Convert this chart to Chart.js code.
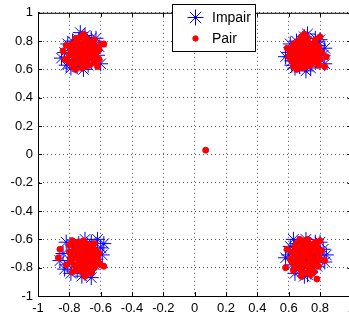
<!DOCTYPE html>
<html>
<head>
<meta charset="utf-8">
<script src="https://cdn.jsdelivr.net/npm/chart.js@4/dist/chart.umd.min.js"></script>
<style>
html,body{margin:0;padding:0;background:#fff;overflow:hidden;width:349px;height:322px;}
#wrap{position:relative;width:360px;height:322px;}
canvas{display:block;}
</style>
</head>
<body>
<div id="wrap"><canvas id="c" width="360" height="322" style="width:360px;height:322px"></canvas></div>
<script>
// ---- data ----
const seriesNames = ["Impair", "Pair"];
const tickValues = [-1, -0.8, -0.6, -0.4, -0.2, 0, 0.2, 0.4, 0.6, 0.8, 1];

const impairPoints = [
  // top-left
  [-0.72,0.73],[-0.78,0.80],[-0.66,0.82],[-0.83,0.72],[-0.62,0.70],[-0.75,0.62],[-0.68,0.63],[-0.80,0.66],[-0.64,0.77],[-0.70,0.84],
  [-0.76,0.76],[-0.69,0.70],[-0.74,0.68],[-0.66,0.67],[-0.81,0.78],[-0.60,0.64],[-0.73,0.86],[-0.85,0.68],[-0.79,0.61],[-0.63,0.82],
  [-0.71,0.60],[-0.67,0.76],[-0.77,0.71],[-0.65,0.72],[-0.61,0.76],[-0.82,0.63],[-0.74,0.81],[-0.69,0.66],[-0.75,0.74],[-0.70,0.78],
  // top-right
  [0.71,0.72],[0.65,0.80],[0.77,0.82],[0.60,0.72],[0.82,0.70],[0.67,0.62],[0.74,0.61],[0.62,0.66],[0.79,0.77],[0.72,0.85],
  [0.66,0.75],[0.73,0.69],[0.69,0.67],[0.77,0.66],[0.61,0.78],[0.83,0.64],[0.70,0.83],[0.58,0.69],[0.64,0.61],[0.80,0.81],
  [0.71,0.59],[0.76,0.75],[0.67,0.71],[0.78,0.72],[0.83,0.75],[0.62,0.63],[0.69,0.80],[0.74,0.65],[0.68,0.74],[0.73,0.77],
  // bottom-left
  [-0.72,-0.72],[-0.78,-0.64],[-0.66,-0.62],[-0.84,-0.70],[-0.60,-0.66],[-0.75,-0.82],[-0.67,-0.80],[-0.81,-0.78],[-0.63,-0.74],[-0.70,-0.60],
  [-0.76,-0.69],[-0.69,-0.75],[-0.74,-0.77],[-0.65,-0.69],[-0.82,-0.62],[-0.58,-0.63],[-0.72,-0.86],[-0.86,-0.75],[-0.79,-0.84],[-0.62,-0.60],
  [-0.70,-0.84],[-0.67,-0.66],[-0.77,-0.73],[-0.64,-0.78],[-0.59,-0.71],[-0.83,-0.81],[-0.74,-0.63],[-0.69,-0.79],[-0.76,-0.67],[-0.71,-0.68],[-0.66,-0.87],
  // bottom-right
  [0.71,-0.72],[0.66,-0.63],[0.77,-0.62],[0.60,-0.71],[0.82,-0.67],[0.67,-0.82],[0.74,-0.83],[0.62,-0.78],[0.79,-0.74],[0.71,-0.60],
  [0.65,-0.69],[0.73,-0.75],[0.69,-0.78],[0.77,-0.70],[0.61,-0.65],[0.83,-0.76],[0.70,-0.86],[0.58,-0.73],[0.64,-0.84],[0.80,-0.62],
  [0.72,-0.85],[0.76,-0.66],[0.67,-0.74],[0.78,-0.79],[0.84,-0.71],[0.63,-0.60],[0.69,-0.66],[0.75,-0.80],[0.68,-0.70],[0.73,-0.68]
];

const pairPoints = [
  // top-left
  [-0.71,0.72],[-0.74,0.70],[-0.68,0.75],[-0.72,0.78],[-0.66,0.69],[-0.77,0.73],[-0.70,0.66],[-0.75,0.65],[-0.63,0.72],[-0.69,0.80],
  [-0.73,0.83],[-0.80,0.70],[-0.65,0.77],[-0.78,0.78],[-0.67,0.63],[-0.72,0.61],[-0.61,0.67],[-0.84,0.73],[-0.83,0.67],[-0.58,0.78],
  [-0.60,0.78],[-0.76,0.60],[-0.62,0.62],[-0.71,0.85],[-0.79,0.75],[-0.64,0.81],[-0.74,0.76],[-0.70,0.69],[-0.68,0.71],[-0.73,0.67],
  [-0.66,0.74],[-0.76,0.69],[-0.69,0.64],[-0.63,0.69],[-0.71,0.75],[-0.75,0.80],[-0.67,0.78],[-0.80,0.65],[-0.61,0.74],[-0.72,0.64],
  [-0.78,0.62],[-0.64,0.65],[-0.69,0.82],[-0.82,0.77],[-0.77,0.67],
  [-0.70,0.73],[-0.73,0.71],[-0.67,0.73],[-0.71,0.79],[-0.65,0.71],[-0.75,0.77],[-0.72,0.69],[-0.68,0.68],[-0.74,0.73],[-0.66,0.79],
  [-0.77,0.64],[-0.70,0.62],[-0.62,0.75],[-0.79,0.72],[-0.68,0.77],[-0.73,0.74],[-0.65,0.68],[-0.76,0.82],[-0.71,0.66],[-0.64,0.70],
  // top-right
  [0.70,0.72],[0.67,0.70],[0.73,0.75],[0.69,0.78],[0.75,0.69],[0.64,0.73],[0.71,0.66],[0.66,0.65],[0.78,0.72],[0.72,0.80],
  [0.68,0.83],[0.61,0.70],[0.76,0.77],[0.63,0.78],[0.74,0.63],[0.69,0.61],[0.80,0.67],[0.59,0.75],[0.60,0.69],[0.80,0.83],
  [0.83,0.62],[0.65,0.60],[0.79,0.63],[0.70,0.85],[0.62,0.74],[0.77,0.81],[0.67,0.76],[0.71,0.69],[0.73,0.71],[0.68,0.67],
  [0.75,0.74],[0.65,0.69],[0.72,0.64],[0.78,0.69],[0.70,0.75],[0.66,0.80],[0.74,0.78],[0.62,0.66],[0.79,0.76],[0.69,0.64],
  [0.63,0.62],[0.77,0.65],[0.72,0.82],[0.84,0.69],[0.64,0.67],
  [0.71,0.73],[0.68,0.72],[0.74,0.70],[0.70,0.79],[0.66,0.72],[0.76,0.72],[0.72,0.67],[0.67,0.68],[0.73,0.77],[0.65,0.77],
  [0.77,0.79],[0.71,0.62],[0.63,0.71],[0.81,0.72],[0.68,0.80],[0.75,0.66],[0.66,0.63],[0.70,0.81],[0.73,0.68],[0.61,0.73],
  // centre
  [0.07,0.03],
  // bottom-left
  [-0.71,-0.72],[-0.74,-0.70],[-0.68,-0.75],[-0.72,-0.66],[-0.66,-0.69],[-0.77,-0.73],[-0.70,-0.78],[-0.75,-0.80],[-0.63,-0.72],[-0.69,-0.63],
  [-0.73,-0.62],[-0.80,-0.69],[-0.65,-0.66],[-0.78,-0.61],[-0.67,-0.81],[-0.72,-0.83],[-0.61,-0.77],[-0.86,-0.67],[-0.87,-0.73],[-0.58,-0.79],
  [-0.60,-0.78],[-0.62,-0.76],[-0.82,-0.78],[-0.70,-0.86],[-0.66,-0.84],[-0.79,-0.75],[-0.64,-0.63],[-0.74,-0.76],[-0.70,-0.69],[-0.68,-0.71],
  [-0.73,-0.67],[-0.66,-0.74],[-0.76,-0.65],[-0.69,-0.80],[-0.63,-0.68],[-0.71,-0.75],[-0.75,-0.62],[-0.67,-0.64],[-0.80,-0.64],[-0.61,-0.70],
  [-0.72,-0.79],[-0.78,-0.83],[-0.64,-0.80],[-0.69,-0.67],[-0.77,-0.68],
  [-0.70,-0.73],[-0.73,-0.72],[-0.67,-0.72],[-0.71,-0.65],[-0.65,-0.72],[-0.75,-0.67],[-0.72,-0.76],[-0.68,-0.78],[-0.74,-0.73],[-0.66,-0.80],
  [-0.77,-0.78],[-0.70,-0.82],[-0.62,-0.73],[-0.79,-0.72],[-0.68,-0.66],[-0.73,-0.64],[-0.65,-0.77],[-0.76,-0.82],[-0.71,-0.61],[-0.64,-0.71],
  // bottom-right
  [0.71,-0.72],[0.68,-0.70],[0.74,-0.75],[0.70,-0.66],[0.76,-0.69],[0.65,-0.73],[0.72,-0.78],[0.67,-0.80],[0.79,-0.72],[0.73,-0.63],
  [0.69,-0.62],[0.62,-0.69],[0.77,-0.77],[0.64,-0.65],[0.75,-0.81],[0.70,-0.84],[0.81,-0.68],[0.59,-0.67],[0.58,-0.80],[0.63,-0.82],
  [0.80,-0.61],[0.83,-0.75],[0.78,-0.88],[0.67,-0.60],[0.66,-0.76],[0.72,-0.69],[0.74,-0.71],[0.69,-0.74],[0.76,-0.65],[0.66,-0.67],
  [0.73,-0.80],[0.79,-0.79],[0.71,-0.64],[0.64,-0.78],[0.68,-0.86],[0.77,-0.62],[0.61,-0.74],[0.75,-0.66],[0.70,-0.77],[0.65,-0.63],
  [0.80,-0.74],[0.72,-0.60],[0.67,-0.71],[0.74,-0.85],[0.63,-0.70],
  [0.70,-0.71],[0.73,-0.73],[0.67,-0.73],[0.71,-0.79],[0.65,-0.71],[0.75,-0.77],[0.72,-0.66],[0.68,-0.65],[0.74,-0.72],[0.66,-0.79],
  [0.77,-0.74],[0.70,-0.61],[0.62,-0.76],[0.79,-0.68],[0.68,-0.82],[0.73,-0.84],[0.64,-0.68],[0.76,-0.83],[0.71,-0.68],[0.78,-0.65]
];

// ---- chart ----
const FONT = '"Liberation Sans", Arial, Helvetica, sans-serif';
const BLUE = '#0000ff';
const RED = '#ff0000';

const toXY = arr => arr.map(p => ({x: p[0], y: p[1]}));

const frame = {
  id: 'frame',
  afterDraw(chart) {
    const ctx = chart.ctx;
    const a = chart.chartArea;
    const xs = chart.scales.x, ys = chart.scales.y;
    ctx.save();
    ctx.strokeStyle = '#000';
    ctx.lineWidth = 1;
    ctx.beginPath();
    ctx.moveTo(a.left, a.top + 0.5); ctx.lineTo(a.right, a.top + 0.5);
    ctx.moveTo(a.right - 0.5, a.top); ctx.lineTo(a.right - 0.5, a.bottom);
    tickValues.forEach(v => {
      const px = Math.round(xs.getPixelForValue(v)) + 0.5;
      ctx.moveTo(px, a.bottom); ctx.lineTo(px, a.bottom - 4);
      ctx.moveTo(px, a.top); ctx.lineTo(px, a.top + 4);
      const py = Math.round(ys.getPixelForValue(v)) + 0.5;
      ctx.moveTo(a.left, py); ctx.lineTo(a.left + 4, py);
      ctx.moveTo(a.right, py); ctx.lineTo(a.right - 4, py);
    });
    ctx.stroke();

    // legend box
    const bx = 172.5, by = 4.5, bw = 83, bh = 47;
    ctx.fillStyle = '#fff';
    ctx.fillRect(bx, by, bw, bh);
    ctx.strokeStyle = '#000';
    ctx.strokeRect(bx, by, bw, bh);
    ctx.strokeStyle = BLUE; ctx.fillStyle = BLUE; ctx.lineWidth = 1;
    Chart.helpers.drawPoint(ctx, {pointStyle: 'star', radius: 8, borderWidth: 1, rotation: 0}, 195.5, 17.5);
    ctx.fillStyle = RED; ctx.strokeStyle = RED;
    Chart.helpers.drawPoint(ctx, {pointStyle: 'circle', radius: 2.7, borderWidth: 1, rotation: 0}, 195.5, 38.5);
    ctx.fillStyle = '#000';
    ctx.font = '14px ' + FONT;
    ctx.textBaseline = 'middle';
    ctx.textAlign = 'left';
    ctx.fillText(seriesNames[0], 212, 18);
    ctx.fillText(seriesNames[1], 212, 39);
    ctx.restore();
  }
};

new Chart(document.getElementById('c'), {
  type: 'scatter',
  data: {
    datasets: [
      {
        label: seriesNames[0],
        data: toXY(impairPoints),
        pointStyle: 'star',
        pointRadius: 7.5,
        borderColor: BLUE,
        backgroundColor: BLUE,
        borderWidth: 1,
        order: 2
      },
      {
        label: seriesNames[1],
        data: toXY(pairPoints),
        pointStyle: 'circle',
        pointRadius: 3,
        borderColor: RED,
        backgroundColor: RED,
        borderWidth: 1,
        order: 1
      }
    ]
  },
  options: {
    responsive: false,
    animation: false,
    events: [],
    layout: {padding: {top: 11, right: 7, left: 0, bottom: 0}},
    plugins: {legend: {display: false}, tooltip: {enabled: false}},
    scales: {
      x: {
        type: 'linear', min: -1, max: 1,
        afterBuildTicks: s => { s.ticks = tickValues.map(v => ({value: v})); },
        afterFit: s => { s.height = 26; },
        ticks: {
          color: '#000', font: {family: FONT, size: 13}, padding: 5,
          maxRotation: 0, autoSkip: false,
          callback: v => String(Math.round(v * 10) / 10)
        },
        grid: {color: '#555', lineWidth: 1, drawTicks: false},
        border: {display: true, color: '#000', width: 1, dash: [1, 3]}
      },
      y: {
        type: 'linear', min: -1, max: 1,
        afterBuildTicks: s => { s.ticks = tickValues.map(v => ({value: v})); },
        afterFit: s => { s.width = 38; },
        ticks: {
          color: '#000', font: {family: FONT, size: 13}, padding: 5,
          autoSkip: false,
          callback: v => String(Math.round(v * 10) / 10)
        },
        grid: {color: '#555', lineWidth: 1, drawTicks: false},
        border: {display: true, color: '#000', width: 1, dash: [1, 3]}
      }
    }
  },
  plugins: [frame]
});
</script>
</body>
</html>
